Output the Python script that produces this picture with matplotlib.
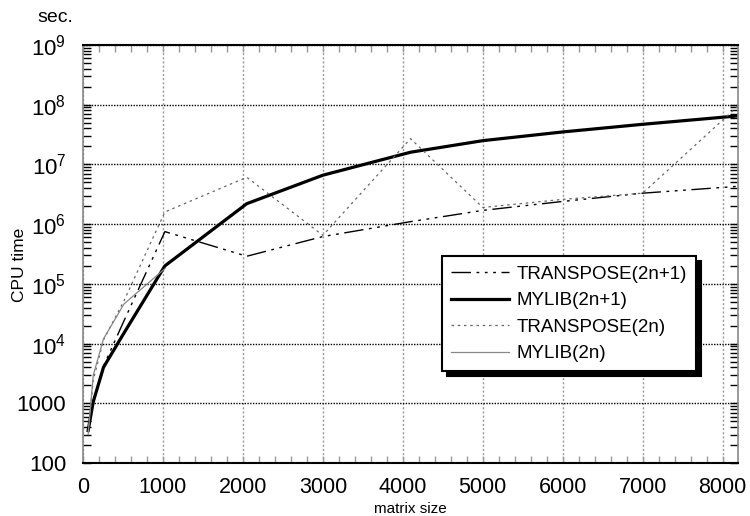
import matplotlib
matplotlib.use("Agg")
import matplotlib.pyplot as plt
from matplotlib.ticker import FixedLocator, LogLocator, MultipleLocator, NullFormatter

plt.rcParams["font.family"] = ["Liberation Sans", "DejaVu Sans"]
plt.rcParams["mathtext.fontset"] = "custom"
plt.rcParams["mathtext.rm"] = "Liberation Sans"

# matrix sizes and CPU times (sec.)
sizes = [64, 128, 256, 512, 1024, 2048, 3000, 4096, 5000, 6000, 7000, 8192]
transpose_odd = [350, 1100, 4200, 2.4e4, 7.5e5, 2.9e5, 6.2e5, 1.1e6, 1.7e6, 2.4e6, 3.3e6, 4.3e6]
mylib_odd = [350, 1060, 4000, 1.5e4, 2.0e5, 2.2e6, 6.6e6, 1.6e7, 2.5e7, 3.5e7, 4.7e7, 6.5e7]
transpose_even = [330, 2450, 1.15e4, 5.2e4, 1.6e6, 6.1e6, 6.5e5, 2.7e7, 1.9e6, 2.6e6, 3.3e6, 9.5e7]
sizes_even_lib = [64, 128, 256, 512, 1024]
mylib_even = [300, 2950, 1.2e4, 4.6e4, 1.8e5]

x_ticks = [0, 1000, 2000, 3000, 4000, 5000, 6000, 7000, 8000]
y_ticks = [1e2, 1e3, 1e4, 1e5, 1e6, 1e7, 1e8, 1e9]
y_labels = ["100", "1000", r"$\mathregular{10^{4}}$", r"$\mathregular{10^{5}}$",
            r"$\mathregular{10^{6}}$", r"$\mathregular{10^{7}}$",
            r"$\mathregular{10^{8}}$", r"$\mathregular{10^{9}}$"]

fig = plt.figure(figsize=(7.5, 5.16), dpi=100)
ax = fig.add_axes([0.1107, 0.1027, 0.8733, 0.8101])

ax.plot(sizes, transpose_odd, color="black", lw=1.0,
        dashes=(14, 4, 2, 4, 2, 4, 2, 4), label="TRANSPOSE(2n+1)")
ax.plot(sizes, mylib_odd, color="black", lw=2.3, label="MYLIB(2n+1)")
ax.plot(sizes, transpose_even, color="#666666", lw=0.9,
        dashes=(2, 3), label="TRANSPOSE(2n)")
ax.plot(sizes_even_lib, mylib_even, color="#888888", lw=0.9, label="MYLIB(2n)")

ax.set_yscale("log")
ax.set_xlim(0, 8192)
ax.set_ylim(100, 1e9)

ax.xaxis.set_major_locator(FixedLocator(x_ticks))
ax.xaxis.set_minor_locator(MultipleLocator(200))
ax.yaxis.set_major_locator(FixedLocator(y_ticks))
ax.set_yticklabels(y_labels)
ax.yaxis.set_minor_locator(LogLocator(base=10, subs=range(2, 10), numticks=20))
ax.yaxis.set_minor_formatter(NullFormatter())

ax.tick_params(axis="y", which="major", labelsize=16, direction="in")
ax.tick_params(axis="x", which="major", labelsize=15.5, direction="in")
ax.tick_params(axis="x", which="both", top=True, bottom=True, direction="in",
               color="#999999", length=5, width=1, pad=10)
ax.tick_params(axis="y", which="both", left=True, right=True, direction="in",
               color="black", length=6, width=1, pad=12)

ax.grid(True, axis="y", which="major", color="black", ls=(0, (1, 1)), lw=1.0)
ax.grid(True, axis="x", which="major", color="#999999", ls=(0, (1.5, 1.5)), lw=1.0)

for side in ["top", "bottom"]:
    ax.spines[side].set_color("black")
    ax.spines[side].set_linewidth(1.5)
for side in ["left", "right"]:
    ax.spines[side].set_color("#888888")
    ax.spines[side].set_linewidth(1.2)

ax.set_xlabel("matrix size", fontsize=11, va="bottom")
ax.xaxis.set_label_coords(0.5, -0.1265)
ax.set_ylabel("CPU time", fontsize=12.5)
ax.yaxis.set_label_coords(-0.086, 0.474)
fig.text(55 / 750, 1 - 18 / 516, "sec.", fontsize=14, ha="center", va="center")

leg = ax.legend(loc="upper left", bbox_to_anchor=(0.5476, 0.495), borderaxespad=0,
                fontsize=13.5, handlelength=3.1, handletextpad=0.4, labelspacing=0.5,
                borderpad=0.5, fancybox=False, framealpha=1, edgecolor="black",
                shadow={"ox": 3.5, "oy": -3.5, "color": "black", "alpha": 1})
leg.get_frame().set_linewidth(1.5)

fig.savefig("out.png", dpi=100)
